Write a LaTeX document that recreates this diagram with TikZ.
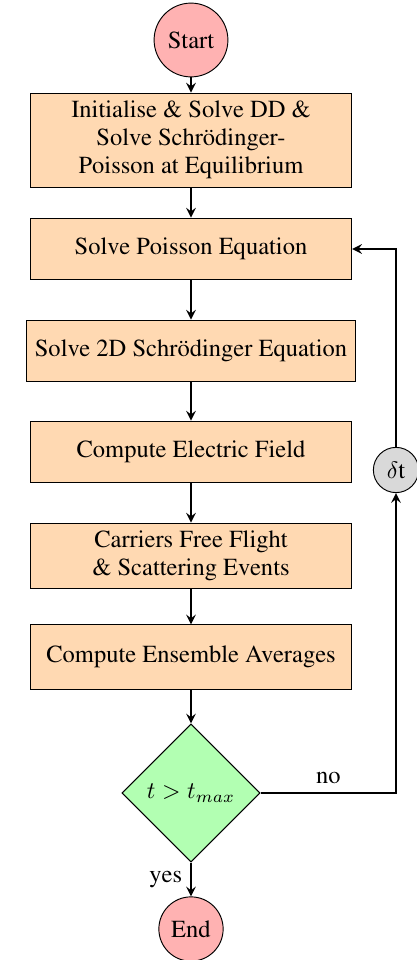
\documentclass[tikz,border=0pt]{standalone}
\usepackage[T1]{fontenc}
\usepackage{times}
\usetikzlibrary{shapes.geometric,arrows}

\tikzset{
  startstop/.style={circle, draw, fill=red!30, inner sep=0pt},
  process/.style={rectangle, draw, fill=orange!30, minimum width=135pt, minimum height=26pt, align=center},
  decision/.style={diamond, draw, fill=green!30, aspect=1, inner sep=0pt, minimum width=58pt, minimum height=58pt},
  timestep/.style={circle, draw, fill=gray!30, inner sep=0pt, minimum size=19pt},
  arrow/.style={thick,->,>=stealth}
}

\begin{document}
\begin{tikzpicture}[x=0.42pt,y=-0.42pt,font=\fontsize{10.3}{11.8}\selectfont]
\useasboundingbox (0,0) rectangle (416,960);

\node[startstop, minimum size=31pt] (start) at (191,40) {Start};
\node[process, minimum height=38.6pt] (init) at (191,140) {Initialise \& Solve DD \&\\ Solve Schr\"odinger-\\ Poisson at Equilibrium};
\node[process] (poisson) at (191,249) {Solve Poisson Equation};
\node[process] (schrod) at (191,351) {Solve 2D Schr\"odinger Equation};
\node[process] (field) at (191,452) {Compute Electric Field};
\node[process, minimum height=27.5pt] (flight) at (191,556) {Carriers Free Flight\\ \& Scattering Events};
\node[process, minimum height=27pt] (avg) at (191,657) {Compute Ensemble Averages};
\node[decision] (test) at (191,793) {$t > t_{max}$};
\node[startstop, minimum size=27pt] (stop) at (191,929) {End};
\node[timestep] (dt) at (396,470) {$\delta$t};

\draw[arrow] (start) -- (init);
\draw[arrow] (init) -- (poisson);
\draw[arrow] (poisson) -- (schrod);
\draw[arrow] (schrod) -- (field);
\draw[arrow] (field) -- (flight);
\draw[arrow] (flight) -- (avg);
\draw[arrow] (avg) -- (test);
\draw[arrow] (test) -- node[left] {yes} (stop);

% loop back
\draw[arrow] (test.east) -| node[above, pos=0.25] {no} (dt.south);
\draw[arrow] (dt.north) |- (poisson.east);
\end{tikzpicture}
\end{document}
